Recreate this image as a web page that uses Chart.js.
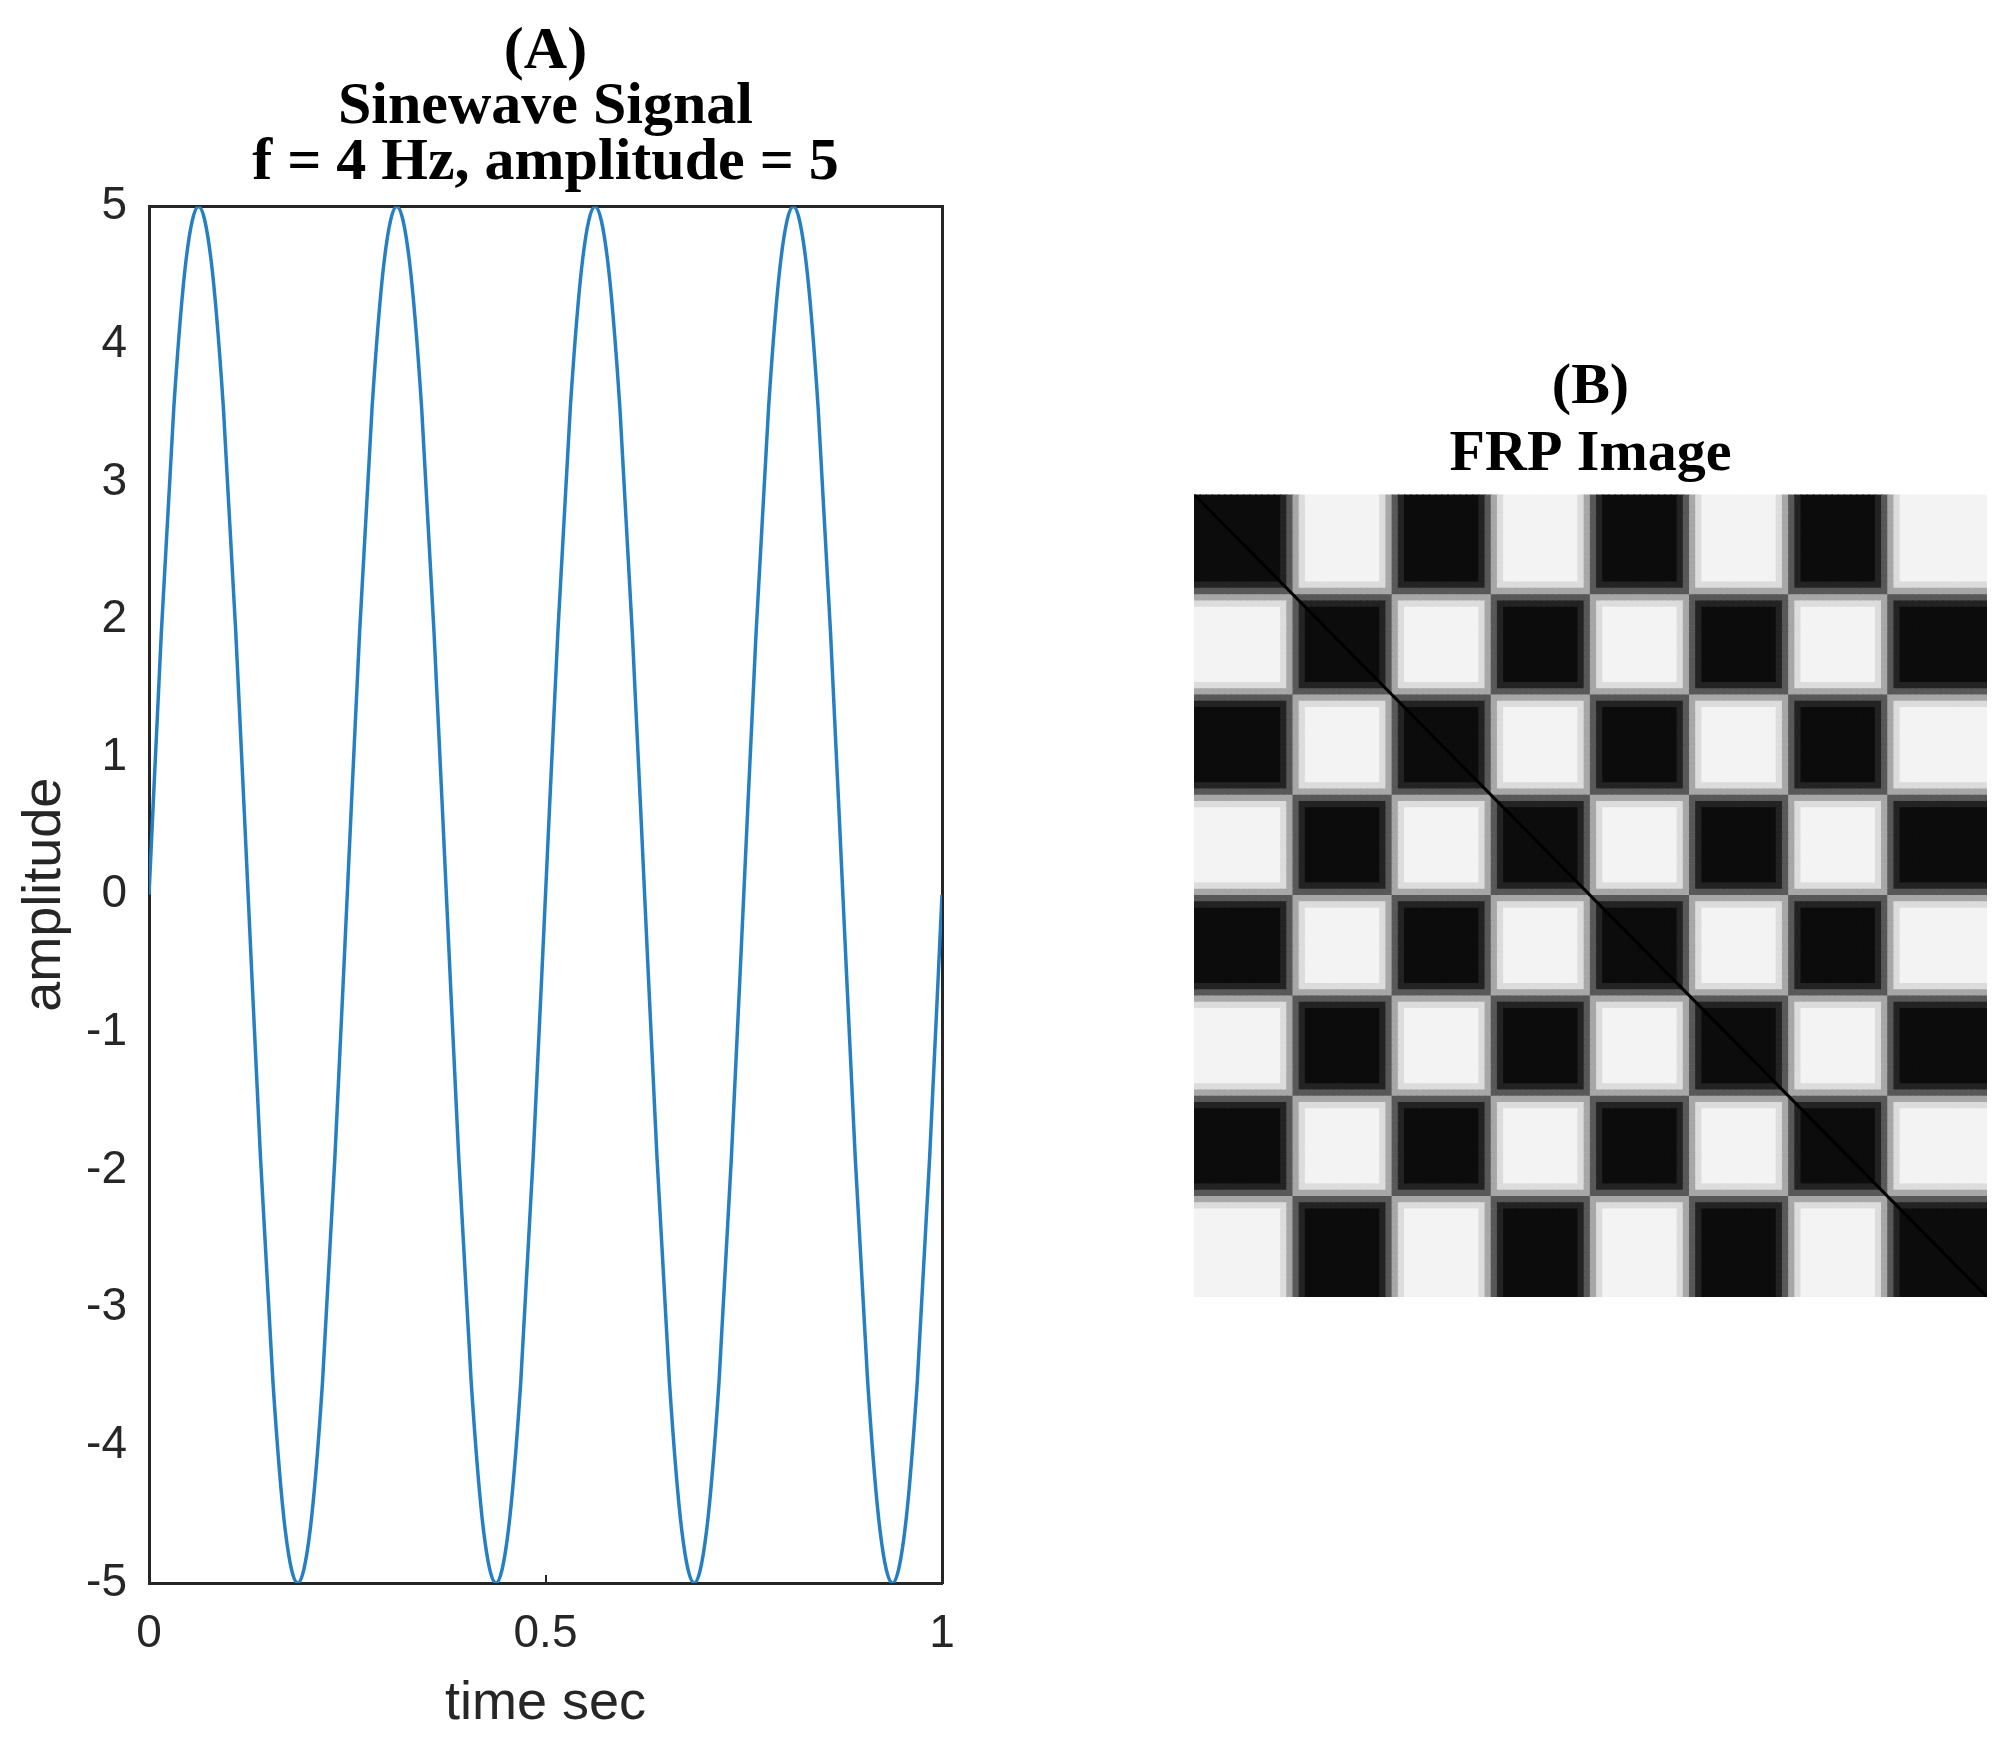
<!DOCTYPE html>
<html>
<head>
<meta charset="utf-8">
<title>Sinewave Signal and FRP Image</title>
<script src="https://cdn.jsdelivr.net/npm/chart.js@4.4.1/dist/chart.umd.min.js"></script>
<style>
  html, body { margin: 0; padding: 0; background: #fff; }
  body { width: 2002px; height: 1748px; position: relative; overflow: hidden; }
  canvas { position: absolute; top: 0; }
  #sine-chart { left: 0; }
  #frp-chart { left: 1179px; }
</style>
</head>
<body>
<canvas id="sine-chart" width="1091" height="1748"></canvas>
<canvas id="frp-chart" width="823" height="1748"></canvas>
<script>
// (A) sine wave, every 1/64 s
const timeSec = [
    0, 0.0156, 0.0313, 0.0469, 0.0625, 0.0781, 0.0938, 0.1094,
    0.125, 0.1406, 0.1563, 0.1719, 0.1875, 0.2031, 0.2188, 0.2344,
    0.25, 0.2656, 0.2813, 0.2969, 0.3125, 0.3281, 0.3438, 0.3594,
    0.375, 0.3906, 0.4063, 0.4219, 0.4375, 0.4531, 0.4688, 0.4844,
    0.5, 0.5156, 0.5313, 0.5469, 0.5625, 0.5781, 0.5938, 0.6094,
    0.625, 0.6406, 0.6563, 0.6719, 0.6875, 0.7031, 0.7188, 0.7344,
    0.75, 0.7656, 0.7813, 0.7969, 0.8125, 0.8281, 0.8438, 0.8594,
    0.875, 0.8906, 0.9063, 0.9219, 0.9375, 0.9531, 0.9688, 0.9844,
    1
];
const amplitude = [
    0, 1.91, 3.54, 4.62, 5, 4.62, 3.54, 1.91, 0, -1.91, -3.54, -4.62, -5, -4.62, -3.54, -1.91,
    0, 1.91, 3.54, 4.62, 5, 4.62, 3.54, 1.91, 0, -1.91, -3.54, -4.62, -5, -4.62, -3.54, -1.91,
    0, 1.91, 3.54, 4.62, 5, 4.62, 3.54, 1.91, 0, -1.91, -3.54, -4.62, -5, -4.62, -3.54, -1.91,
    0, 1.91, 3.54, 4.62, 5, 4.62, 3.54, 1.91, 0, -1.91, -3.54, -4.62, -5, -4.62, -3.54, -1.91,
    0
];
const xTickValues = [0, 0.5, 1];
const yTickValues = [-5, -4, -3, -2, -1, 0, 1, 2, 3, 4, 5];

// (B) FRP image: 8 half-period blocks, 16 cells each.
// each char is a class: 0 pos core, 1/2 pos edge, 3/4 neg edge, 5 neg core
const frpBlocks = [
    '0000000000000012',
    '3455555555555543',
    '2100000000000012',
    '3455555555555543',
    '2100000000000012',
    '3455555555555543',
    '2100000000000012',
    '3455555555555555'
];
// gray level (0 black .. 255 white) for row class x column class
const frpGray = [
    [12, 35, 88, 167, 220, 243],
    [35, 35, 88, 167, 220, 220],
    [88, 88, 88, 167, 167, 167],
    [167, 167, 167, 88, 88, 88],
    [220, 220, 167, 88, 35, 35],
    [243, 220, 167, 88, 35, 12]
];
const diagonalEnds = [-0.5, 127.5];

const axisColor = '#262626';
const sansFont = "'Liberation Sans', Arial, sans-serif";
const serifFont = "'Liberation Serif', 'Times New Roman', serif";

new Chart(document.getElementById('sine-chart'), {
    type: 'line',
    data: {
        datasets: [{
            data: timeSec.map((t, i) => ({ x: t, y: amplitude[i] })),
            borderColor: '#2580c3',
            borderWidth: 3.5,
            pointRadius: 0,
            cubicInterpolationMode: 'monotone',
            fill: false
        }]
    },
    options: {
        responsive: false,
        animation: false,
        events: [],
        layout: { padding: 0 },
        plugins: {
            legend: { display: false },
            tooltip: { enabled: false },
            title: {
                display: true,
                text: ['(A)', 'Sinewave Signal', 'f = 4 Hz, amplitude = 5'],
                color: '#000',
                font: { family: serifFont, size: 60, weight: 'bold', lineHeight: 0.92 },
                padding: { top: 25, bottom: 16 }
            }
        },
        scales: {
            x: {
                type: 'linear',
                min: 0,
                max: 1,
                afterBuildTicks: s => { s.ticks = xTickValues.map(v => ({ value: v })); },
                afterFit: s => { s.height = 165; },
                grid: { display: true, drawOnChartArea: false, drawTicks: true, tickLength: -8, color: axisColor, lineWidth: 2 },
                border: { display: true, color: axisColor, width: 3 },
                ticks: {
                    color: axisColor, font: { family: sansFont, size: 46 }, padding: 32, maxRotation: 0,
                    callback: v => String(v)
                },
                title: {
                    display: true, text: 'time sec', color: axisColor,
                    font: { family: sansFont, size: 54 }, padding: { top: 0, bottom: 11 }
                }
            },
            y: {
                type: 'linear',
                min: -5,
                max: 5,
                afterBuildTicks: s => { s.ticks = yTickValues.map(v => ({ value: v })); },
                afterFit: s => { s.width = 149; },
                grid: { display: false },
                border: { display: true, color: axisColor, width: 3 },
                ticks: { color: axisColor, font: { family: sansFont, size: 46 }, padding: 14, callback: v => String(v) },
                title: {
                    display: true, text: 'amplitude', color: axisColor,
                    font: { family: sansFont, size: 54 }, padding: { top: 13, bottom: 0 }
                }
            },
            xTop: {
                type: 'linear', position: 'top', min: 0, max: 1,
                grid: { display: false },
                ticks: { display: false },
                border: { display: true, color: axisColor, width: 3 },
                afterFit: s => { s.height = 0; }
            },
            yRight: {
                type: 'linear', position: 'right', min: -5, max: 5,
                grid: { display: false },
                ticks: { display: false },
                border: { display: true, color: axisColor, width: 3 },
                afterFit: s => { s.width = 149; }
            }
        }
    }
});

const frpClassSeq = frpBlocks.join('');
const frpSize = frpClassSeq.length;
const frpCells = [];
const frpColors = [];
for (let r = 0; r < frpSize; r++) {
    for (let c = 0; c < frpSize; c++) {
        const g = frpGray[+frpClassSeq[r]][+frpClassSeq[c]];
        frpCells.push({ x: c, y: r });
        frpColors.push(`rgb(${g},${g},${g})`);
    }
}

function cellRadius(chart) {
    const a = chart.chartArea;
    if (!a) return 5;
    const cell = Math.max(a.width, a.height) / frpSize;
    return (cell + 1.2) / Math.SQRT2;
}

new Chart(document.getElementById('frp-chart'), {
    type: 'scatter',
    data: {
        datasets: [
            {
                data: diagonalEnds.map(v => ({ x: v, y: v })),
                showLine: true,
                borderColor: '#000',
                borderWidth: 3,
                pointRadius: 0,
                order: 1
            },
            {
                data: frpCells,
                pointStyle: 'rect',
                pointBackgroundColor: frpColors,
                pointBorderWidth: 0,
                pointRadius: ctx => cellRadius(ctx.chart),
                order: 2
            }
        ]
    },
    options: {
        responsive: false,
        animation: false,
        events: [],
        layout: { padding: { top: 0, right: 15, bottom: 451, left: 15 } },
        plugins: {
            legend: { display: false },
            tooltip: { enabled: false },
            title: {
                display: true,
                text: ['(B)', 'FRP Image'],
                color: '#000',
                font: { family: serifFont, size: 58, weight: 'bold', lineHeight: 1.15 },
                padding: { top: 355, bottom: 6 }
            }
        },
        scales: {
            x: { type: 'linear', min: -0.5, max: frpSize - 0.5, display: false },
            y: { type: 'linear', min: -0.5, max: frpSize - 0.5, reverse: true, display: false }
        }
    }
});
</script>
</body>
</html>
